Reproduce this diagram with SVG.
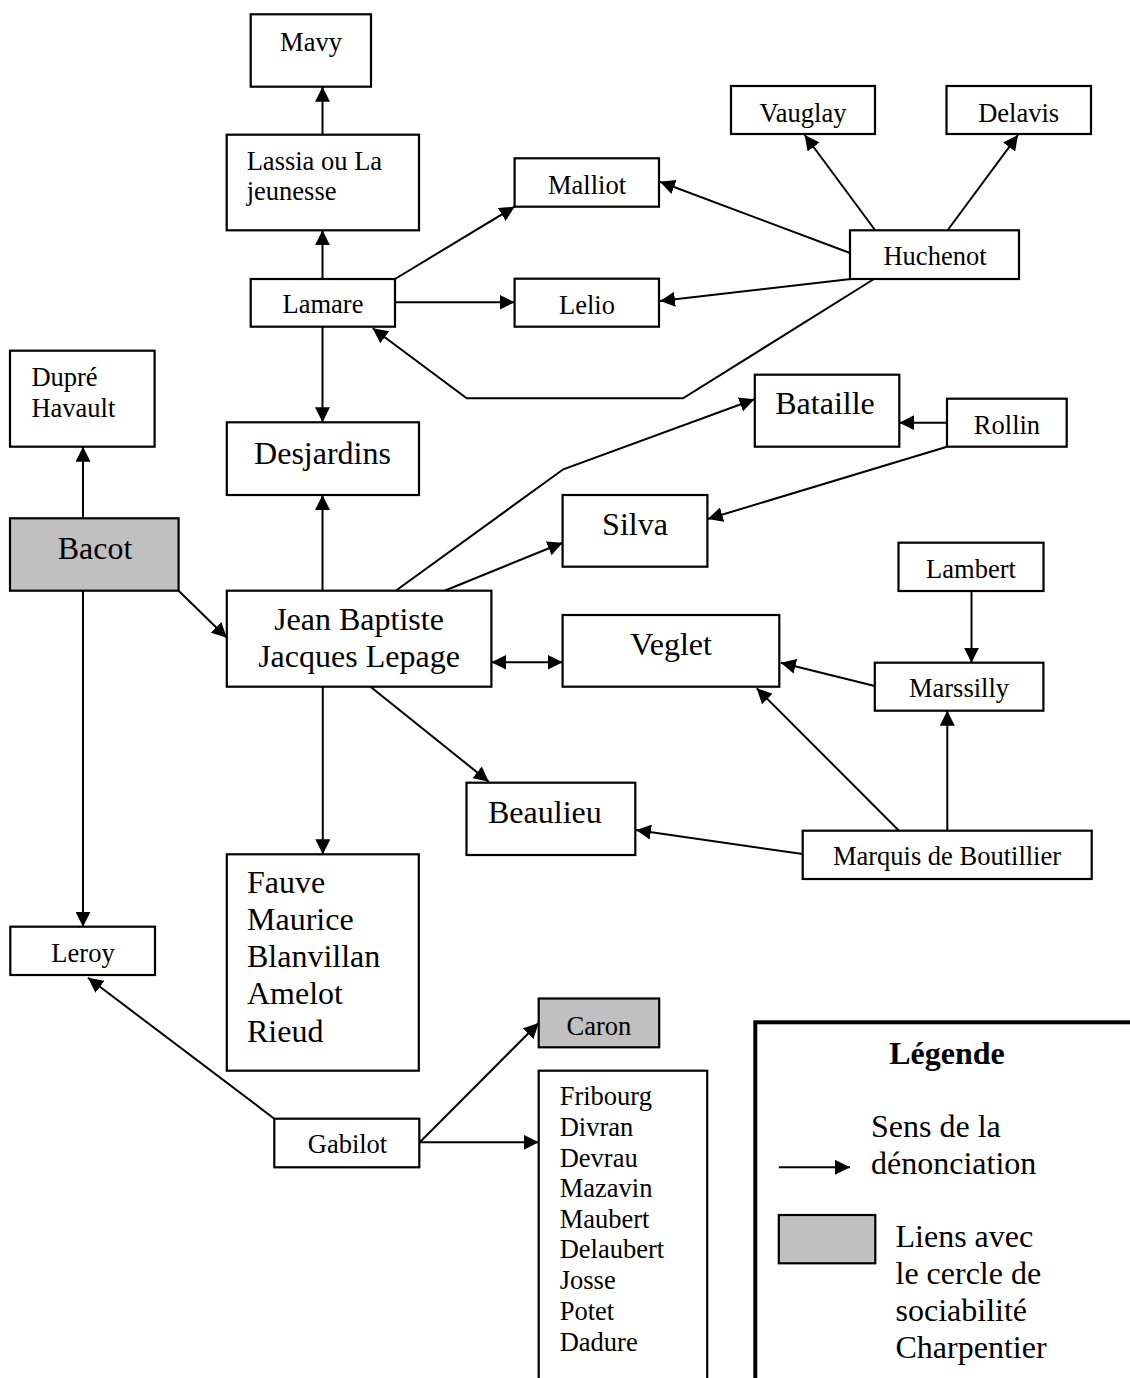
<svg xmlns="http://www.w3.org/2000/svg" width="1130" height="1378" viewBox="0 0 1130 1378">
<style>
.box{fill:#fff;stroke:#000;stroke-width:2.2}
.gray{fill:#c0c0c0}
.s{font-family:"Liberation Serif","Times New Roman",serif;font-size:26.5px;fill:#000}
.l{font-family:"Liberation Serif","Times New Roman",serif;font-size:32px;fill:#000}
.c{text-anchor:middle}
.b{font-weight:bold}
.e{fill:none;stroke:#000;stroke-width:2;marker-end:url(#ah)}
</style>
<defs>
<marker id="ah" markerUnits="userSpaceOnUse" markerWidth="15" markerHeight="15" viewBox="0 0 15 15" refX="15" refY="7.5" orient="auto-start-reverse">
<path d="M0,0 L15,7.5 L0,15 z" fill="#000"/>
</marker>
</defs>
<rect width="1130" height="1378" fill="#fff"/>
<g id="connectors">
<path class="e" d="M322.5,134.7 V86.7"/>
<path class="e" d="M322.5,279 V230.3"/>
<path class="e" d="M395,279 L514.6,206.7"/>
<path class="e" d="M395,302.3 L514.6,302.3"/>
<path class="e" d="M850,253 L660,181.7"/>
<path class="e" d="M851,279 L660,301"/>
<path class="e" d="M875,230 L804.7,135"/>
<path class="e" d="M947.8,230 L1018,135"/>
<path class="e" d="M874,279 L683,398.3 L466.7,398.3 L372.7,328.3"/>
<path class="e" d="M322.5,326.7 V422.3"/>
<path class="e" d="M322.5,590.7 V495"/>
<path class="e" d="M83,518.3 V446.7"/>
<path class="e" d="M83,590.7 V926.7"/>
<path class="e" d="M178.6,590.7 L226.8,637.7"/>
<path class="e" d="M395.7,590.7 L563.3,469.3 L754.5,399.3"/>
<path class="e" d="M444.6,590.7 L562.6,542.7"/>
<path class="e" d="M491.4,662.3 L562.6,662.3" marker-start="url(#ah)"/>
<path class="e" d="M947,422.7 L899.3,422.7"/>
<path class="e" d="M947,446.7 L707.8,519"/>
<path class="e" d="M971.5,591 V662.7"/>
<path class="e" d="M874.8,686 L780.8,662.7"/>
<path class="e" d="M947.3,830.7 V710.7"/>
<path class="e" d="M899,830.7 L756.7,688.3"/>
<path class="e" d="M802.7,854 L636,830"/>
<path class="e" d="M370.5,686.7 L488.8,781.7"/>
<path class="e" d="M322.8,686.7 V854.3"/>
<path class="e" d="M274.3,1118.7 L88,977.7"/>
<path class="e" d="M420,1142 L538.7,1023"/>
<path class="e" d="M419.3,1142.3 L538.7,1142.3"/>
</g>
<g id="mavy"><rect class="box" x="250.7" y="14.3" width="120.3" height="72.4"/><text class="s c" x="311" y="50.7">Mavy</text></g>
<g id="lassia"><rect class="box" x="226.7" y="134.7" width="192.3" height="95.6"/><text class="s" x="246.7" y="170">Lassia ou La</text><text class="s" x="246.7" y="200">jeunesse</text></g>
<g id="lamare"><rect class="box" x="250.7" y="279" width="144.3" height="47.7"/><text class="s c" x="323" y="313.3">Lamare</text></g>
<g id="malliot"><rect class="box" x="514.6" y="158.3" width="144.4" height="48.4"/><text class="s c" x="587" y="194">Malliot</text></g>
<g id="lelio"><rect class="box" x="514.6" y="278.7" width="144.4" height="48"/><text class="s c" x="587" y="313.7">Lelio</text></g>
<g id="vauglay"><rect class="box" x="731" y="86" width="144" height="48"/><text class="s c" x="803" y="121.7">Vauglay</text></g>
<g id="delavis"><rect class="box" x="946.5" y="86" width="144.5" height="48"/><text class="s c" x="1018.7" y="121.7">Delavis</text></g>
<g id="huchenot"><rect class="box" x="850" y="230.3" width="169" height="48.7"/><text class="s c" x="935" y="265">Huchenot</text></g>
<g id="dupre"><rect class="box" x="10" y="350.7" width="144.6" height="96"/><text class="s" x="31.4" y="385.7">Dupré</text><text class="s" x="31.4" y="416.7">Havault</text></g>
<g id="desjardins"><rect class="box" x="226.8" y="422.3" width="192.2" height="72.7"/><text class="l c" x="322.5" y="464">Desjardins</text></g>
<g id="bacot"><rect class="box gray" x="10" y="518.3" width="168.6" height="72.4"/><text class="l c" x="95" y="559.3">Bacot</text></g>
<g id="lepage"><rect class="box" x="226.8" y="590.7" width="264.6" height="96"/><text class="l c" x="359" y="630">Jean Baptiste</text><text class="l c" x="359" y="666.7">Jacques Lepage</text></g>
<g id="bataille"><rect class="box" x="754.8" y="374.7" width="144.5" height="72"/><text class="l c" x="825" y="414.3">Bataille</text></g>
<g id="rollin"><rect class="box" x="947" y="398.7" width="119.7" height="48"/><text class="s c" x="1007" y="434">Rollin</text></g>
<g id="silva"><rect class="box" x="562.6" y="495" width="144.8" height="71.7"/><text class="l c" x="635" y="535">Silva</text></g>
<g id="lambert"><rect class="box" x="898.5" y="542.7" width="145" height="48.3"/><text class="s c" x="971" y="577.7">Lambert</text></g>
<g id="veglet"><rect class="box" x="562.6" y="615" width="216.7" height="71.7"/><text class="l c" x="671" y="655">Veglet</text></g>
<g id="marssilly"><rect class="box" x="874.8" y="662.7" width="168.6" height="48"/><text class="s c" x="959" y="696.7">Marssilly</text></g>
<g id="marquis"><rect class="box" x="802.7" y="830.7" width="289" height="48.3"/><text class="s c" x="947" y="865.3">Marquis de Boutillier</text></g>
<g id="beaulieu"><rect class="box" x="466.5" y="782.7" width="168.8" height="72.3"/><text class="l" x="488" y="823.3">Beaulieu</text></g>
<g id="fauve"><rect class="box" x="226.8" y="854.3" width="192" height="216.4"/>
<text class="l" x="247" y="893.3">Fauve</text><text class="l" x="247" y="930">Maurice</text><text class="l" x="247" y="967.3">Blanvillan</text><text class="l" x="247" y="1004.3">Amelot</text><text class="l" x="247" y="1041.7">Rieud</text></g>
<g id="leroy"><rect class="box" x="10.3" y="926.7" width="144.7" height="48.3"/><text class="s c" x="83" y="961.7">Leroy</text></g>
<g id="caron"><rect class="box gray" x="538.7" y="998.5" width="120.5" height="48.8"/><text class="s c" x="599" y="1035">Caron</text></g>
<g id="gabilot"><rect class="box" x="274.3" y="1118.7" width="145" height="48.6"/><text class="s c" x="347.5" y="1153.3">Gabilot</text></g>
<g id="fribourg"><rect class="box" x="538.7" y="1070.7" width="168.5" height="330"/>
<text class="s" x="559.7" y="1105">Fribourg</text><text class="s" x="559.7" y="1135.7">Divran</text><text class="s" x="559.7" y="1166.7">Devrau</text><text class="s" x="559.7" y="1196.7">Mazavin</text><text class="s" x="559.7" y="1227.7">Maubert</text><text class="s" x="559.7" y="1258.3">Delaubert</text><text class="s" x="559.7" y="1289">Josse</text><text class="s" x="559.7" y="1320">Potet</text><text class="s" x="559.7" y="1350.7">Dadure</text></g>
<g id="legend">
<rect x="755.3" y="1022.3" width="420" height="420" fill="#fff" stroke="#000" stroke-width="4"/>
<text class="l c b" x="947" y="1064">Légende</text>
<text class="l" x="871" y="1136.7">Sens de la</text>
<text class="l" x="871" y="1174.3">dénonciation</text>
<path class="e" d="M778.8,1167.3 L850,1167.3"/>
<rect class="box gray" x="778.8" y="1215" width="96.5" height="48.3"/>
<text class="l" x="895.5" y="1246.7">Liens avec</text>
<text class="l" x="895.5" y="1284.3">le cercle de</text>
<text class="l" x="895.5" y="1321">sociabilité</text>
<text class="l" x="895.5" y="1358.3">Charpentier</text>
</g>
</svg>
